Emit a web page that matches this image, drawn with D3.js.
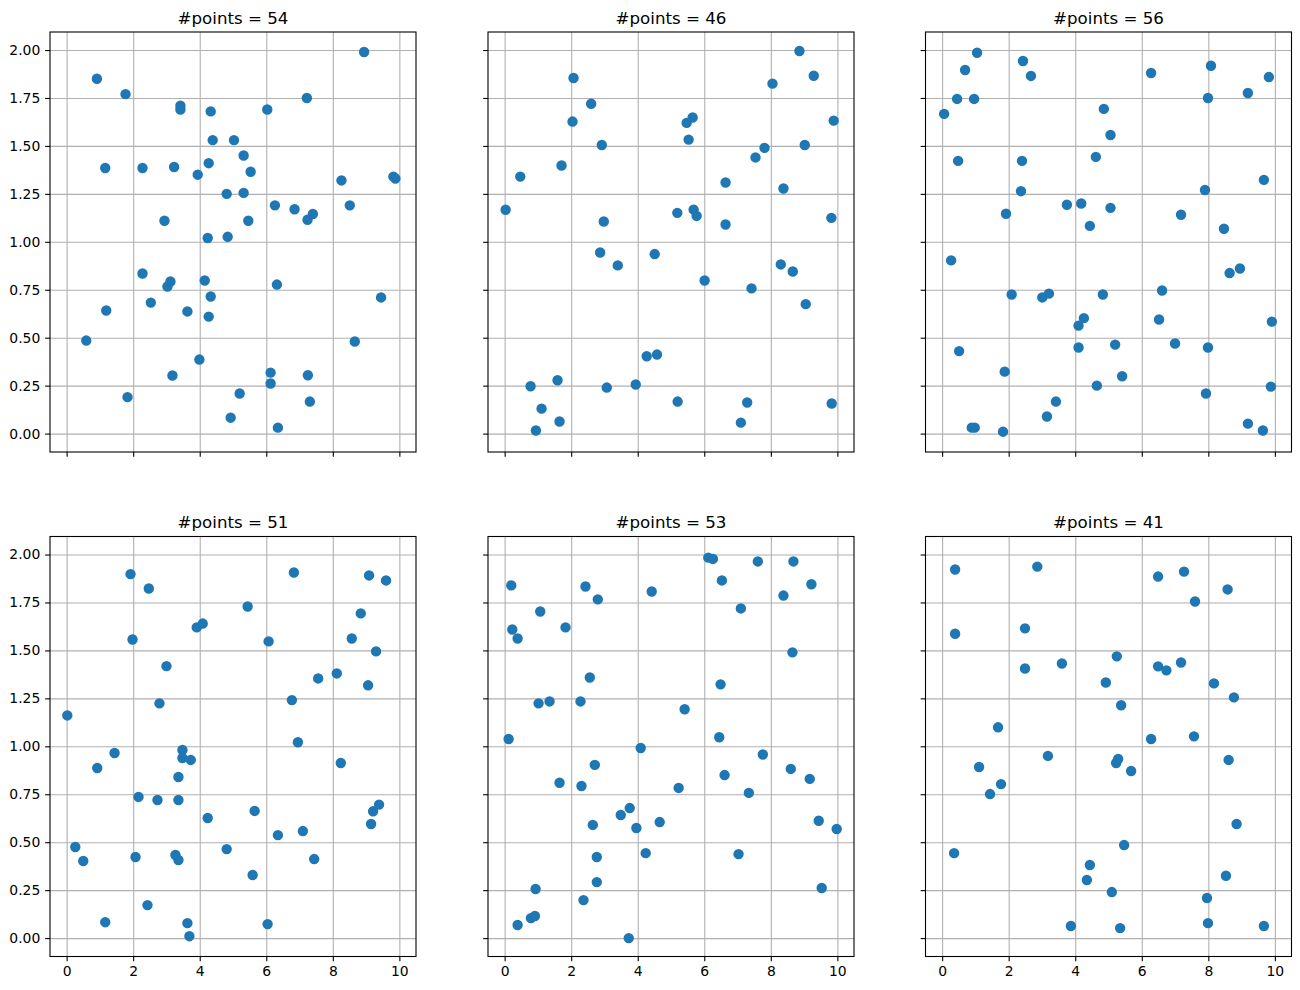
<!DOCTYPE html>
<html>
<head>
<meta charset="utf-8">
<script src="https://cdn.jsdelivr.net/npm/d3@7"></script>
<style>
  body { margin: 0; background: #ffffff; }
  svg text { font-family: "DejaVu Sans", sans-serif; fill: #000000; }
</style>
</head>
<body>
<div id="my_dataviz"></div>
<script>
// values, one array of [x, y] pairs per panel
const pointCounts = [54, 46, 56, 51, 53, 41];
const xTicks = [0, 2, 4, 6, 8, 10];
const yTicks = [0, 0.25, 0.5, 0.75, 1, 1.25, 1.5, 1.75, 2];

const panelA = [
  [0.91, 1.85], [1.77, 1.77], [3.42, 1.71], [3.42, 1.69], [4.33, 1.68], [6.03, 1.69],
  [7.22, 1.75], [8.94, 1.99], [4.39, 1.53], [5.03, 1.53], [5.32, 1.45], [1.16, 1.385],
  [2.28, 1.385], [3.23, 1.39], [4.27, 1.41], [3.94, 1.35], [5.53, 1.365], [8.26, 1.32],
  [9.82, 1.34], [9.88, 1.33], [4.81, 1.25], [5.32, 1.255], [6.26, 1.19], [6.85, 1.17],
  [7.24, 1.115], [7.40, 1.145], [8.51, 1.19], [2.94, 1.11], [5.46, 1.11], [4.24, 1.02],
  [4.84, 1.026], [2.28, 0.835], [3.12, 0.793], [3.03, 0.767], [4.15, 0.798], [6.32, 0.777],
  [4.33, 0.715], [2.53, 0.683], [1.19, 0.642], [3.63, 0.637], [4.27, 0.61], [9.45, 0.71],
  [0.59, 0.485], [8.66, 0.48], [3.99, 0.386], [3.18, 0.303], [6.13, 0.318], [6.13, 0.261],
  [7.25, 0.304], [7.31, 0.167], [1.83, 0.19], [5.20, 0.209], [4.93, 0.083], [6.35, 0.031]
];

const panelB = [
  [2.07, 1.854], [2.60, 1.72], [2.04, 1.627], [2.92, 1.505], [1.71, 1.398], [0.47, 1.34],
  [0.03, 1.167], [2.98, 1.106], [5.47, 1.62], [5.65, 1.648], [5.53, 1.533], [5.19, 1.151],
  [5.68, 1.168], [5.77, 1.135], [6.64, 1.309], [6.64, 1.09], [7.54, 1.44], [7.81, 1.49],
  [8.05, 1.825], [8.86, 1.995], [9.29, 1.866], [9.02, 1.505], [9.89, 1.632], [8.38, 1.278],
  [9.82, 1.125], [2.87, 0.944], [3.40, 0.877], [4.51, 0.936], [6.01, 0.798], [7.42, 0.757],
  [8.30, 0.882], [8.66, 0.845], [9.05, 0.675], [4.27, 0.403], [4.58, 0.412], [0.78, 0.247],
  [1.59, 0.278], [3.07, 0.24], [3.94, 0.256], [1.11, 0.13], [1.65, 0.063], [0.94, 0.016],
  [5.20, 0.167], [7.29, 0.162], [7.10, 0.057], [9.83, 0.157]
];

const panelC = [
  [0.06, 1.667], [0.45, 1.745], [0.69, 1.896], [1.05, 1.986], [0.96, 1.745], [0.48, 1.422],
  [2.43, 1.943], [2.67, 1.865], [2.40, 1.422], [2.37, 1.264], [1.92, 1.146], [4.86, 1.693],
  [5.06, 1.557], [4.62, 1.443], [3.75, 1.193], [4.18, 1.2], [5.06, 1.177], [4.44, 1.083],
  [6.28, 1.88], [8.08, 1.918], [7.99, 1.75], [9.19, 1.776], [9.82, 1.859], [7.90, 1.27],
  [9.67, 1.323], [7.18, 1.141], [8.47, 1.068], [0.27, 0.903], [2.09, 0.725], [3.01, 0.71],
  [3.21, 0.73], [4.83, 0.725], [6.61, 0.746], [4.26, 0.602], [4.10, 0.563], [6.52, 0.595],
  [9.91, 0.584], [8.64, 0.837], [8.95, 0.861], [0.51, 0.43], [4.10, 0.449], [5.20, 0.464],
  [7.00, 0.47], [7.99, 0.449], [1.88, 0.323], [5.41, 0.299], [4.65, 0.25], [7.93, 0.209],
  [9.88, 0.245], [3.42, 0.167], [3.15, 0.089], [0.89, 0.031], [0.98, 0.031], [1.83, 0.01],
  [9.19, 0.052], [9.64, 0.016]
];

const panelD = [
  [0.02, 1.161], [1.92, 1.898], [2.47, 1.823], [1.98, 1.557], [3.00, 1.418], [2.79, 1.224],
  [3.91, 1.62], [4.09, 1.64], [5.44, 1.729], [6.07, 1.547], [6.83, 1.906], [6.77, 1.241],
  [6.95, 1.021], [7.56, 1.354], [8.12, 1.38], [8.57, 1.562], [8.84, 1.693], [9.09, 1.891],
  [9.60, 1.865], [9.30, 1.495], [9.06, 1.318], [0.92, 0.887], [1.44, 0.965], [3.48, 0.981],
  [3.48, 0.939], [3.73, 0.929], [3.36, 0.84], [2.16, 0.736], [2.73, 0.72], [3.36, 0.72],
  [4.24, 0.626], [5.65, 0.663], [8.24, 0.913], [9.39, 0.696], [9.21, 0.661], [9.15, 0.595],
  [0.26, 0.475], [0.50, 0.402], [2.07, 0.423], [3.27, 0.433], [3.36, 0.407], [4.81, 0.464],
  [6.35, 0.537], [7.10, 0.558], [7.44, 0.412], [5.59, 0.329], [2.43, 0.172], [1.16, 0.083],
  [3.63, 0.078], [3.69, 0.01], [6.04, 0.073]
];

const panelE = [
  [6.12, 1.984], [6.26, 1.977], [7.61, 1.964], [8.68, 1.964], [0.20, 1.839], [2.43, 1.833],
  [2.80, 1.766], [4.42, 1.807], [6.53, 1.865], [9.22, 1.845], [8.38, 1.786], [7.10, 1.719],
  [1.07, 1.703], [0.23, 1.609], [0.39, 1.562], [1.83, 1.62], [8.65, 1.49], [2.56, 1.359],
  [6.49, 1.323], [1.02, 1.224], [1.35, 1.234], [2.28, 1.234], [5.41, 1.193], [0.12, 1.038],
  [6.45, 1.047], [4.09, 0.991], [2.71, 0.903], [1.65, 0.81], [2.31, 0.793], [5.23, 0.783],
  [3.76, 0.678], [3.49, 0.642], [2.65, 0.59], [3.96, 0.574], [4.66, 0.605], [4.24, 0.443],
  [2.77, 0.423], [2.77, 0.292], [0.93, 0.256], [2.37, 0.198], [0.79, 0.104], [0.91, 0.115],
  [0.39, 0.068], [3.73, 0.0], [6.61, 0.85], [7.76, 0.957], [7.34, 0.757], [8.60, 0.882],
  [9.17, 0.83], [9.44, 0.612], [9.98, 0.569], [7.03, 0.438], [9.53, 0.261]
];

const panelF = [
  [0.39, 1.922], [2.86, 1.937], [6.49, 1.885], [7.27, 1.911], [8.58, 1.818], [7.60, 1.755],
  [0.39, 1.587], [2.49, 1.615], [2.49, 1.406], [3.60, 1.432], [5.25, 1.469], [6.49, 1.417],
  [6.74, 1.396], [7.18, 1.437], [4.92, 1.333], [8.17, 1.328], [8.77, 1.255], [5.38, 1.214],
  [1.68, 1.099], [6.28, 1.038], [7.57, 1.052], [3.18, 0.95], [5.23, 0.913], [5.29, 0.934],
  [5.68, 0.871], [8.61, 0.929], [1.11, 0.892], [1.77, 0.803], [1.44, 0.751], [8.85, 0.595],
  [0.36, 0.443], [5.47, 0.485], [4.44, 0.381], [4.35, 0.303], [5.10, 0.24], [8.53, 0.325],
  [7.96, 0.209], [7.99, 0.078], [3.87, 0.063], [5.35, 0.052], [9.67, 0.063]
];

const panels = [panelA, panelB, panelC, panelD, panelE, panelF];

// figure layout (matplotlib-like 2x3 grid with shared axes)
let width = 1300;
let height = 990;
const colLeft = [50, 488, 925.5];
const rowTop = [32, 536.5];
const panelW = 366;
const panelH = 420;
const tickLen = 4.86;
const dotColor = "#1f77b4";
const gridColor = "#b0b0b0";

var svg = d3
  .select("#my_dataviz")
  .append("svg")
  .attr("width", width)
  .attr("height", height);

// shared scales, same limits for every panel
let x = d3.scaleLinear().domain([-0.5, 10.5]).range([0, panelW]);
let y = d3.scaleLinear().domain([-0.096, 2.094]).range([panelH, 0]);

/**
 * @description Draws one subplot: grid, points, ticks, frame and title
 * @param data Array of [x, y] pairs
 * @param i Index of the panel (row-major)
 */
function drawPanel(data, i) {
  let row = Math.floor(i / 3);
  let col = i % 3;
  let g = svg
    .append("g")
    .attr("transform", "translate(" + colLeft[col] + "," + rowTop[row] + ")");

  // grid lines
  g.append("g")
    .attr("class", "grid")
    .attr("transform", "translate(0," + panelH + ")")
    .call(d3.axisBottom(x).tickValues(xTicks).tickSize(-panelH).tickFormat(""));
  g.append("g")
    .attr("class", "grid")
    .call(d3.axisLeft(y).tickValues(yTicks).tickSize(-panelW).tickFormat(""));
  g.selectAll(".grid .domain").remove();
  g.selectAll(".grid line")
    .attr("stroke", gridColor)
    .attr("stroke-width", 1.1);

  // the scatter points
  g.selectAll("circle")
    .data(data)
    .enter()
    .append("circle")
    .attr("cx", d => x(d[0]))
    .attr("cy", d => y(d[1]))
    .attr("r", 4.17)
    .attr("fill", dotColor)
    .attr("stroke", dotColor)
    .attr("stroke-width", 2.08);

  // tick marks, labels only on the outer panels
  let xAxis = g
    .append("g")
    .attr("transform", "translate(0," + panelH + ")")
    .call(
      d3.axisBottom(x)
        .tickValues(xTicks)
        .tickSize(tickLen)
        .tickPadding(4.86)
        .tickFormat(row == 1 ? d3.format("d") : "")
    );
  let yAxis = g
    .append("g")
    .call(
      d3.axisLeft(y)
        .tickValues(yTicks)
        .tickSize(tickLen)
        .tickPadding(4.86)
        .tickFormat(col == 0 ? d3.format(".2f") : "")
    );
  [xAxis, yAxis].forEach(function(a) {
    a.select(".domain").remove();
    a.selectAll("line").attr("stroke", "#000").attr("stroke-width", 1.1);
    a.selectAll("text")
      .style("font-size", "13.9px")
      .style("font-family", "'DejaVu Sans', sans-serif")
      .attr("fill", "#000");
  });

  // frame
  g.append("rect")
    .attr("width", panelW)
    .attr("height", panelH)
    .attr("fill", "none")
    .attr("stroke", "#000")
    .attr("stroke-width", 1.1);

  // title
  g.append("text")
    .attr("x", panelW / 2)
    .attr("y", -8.3)
    .attr("text-anchor", "middle")
    .style("font-size", "16.67px")
    .text("#points = " + pointCounts[i]);
}

panels.forEach(function(d, i) {
  drawPanel(d, i);
});
</script>
</body>
</html>
